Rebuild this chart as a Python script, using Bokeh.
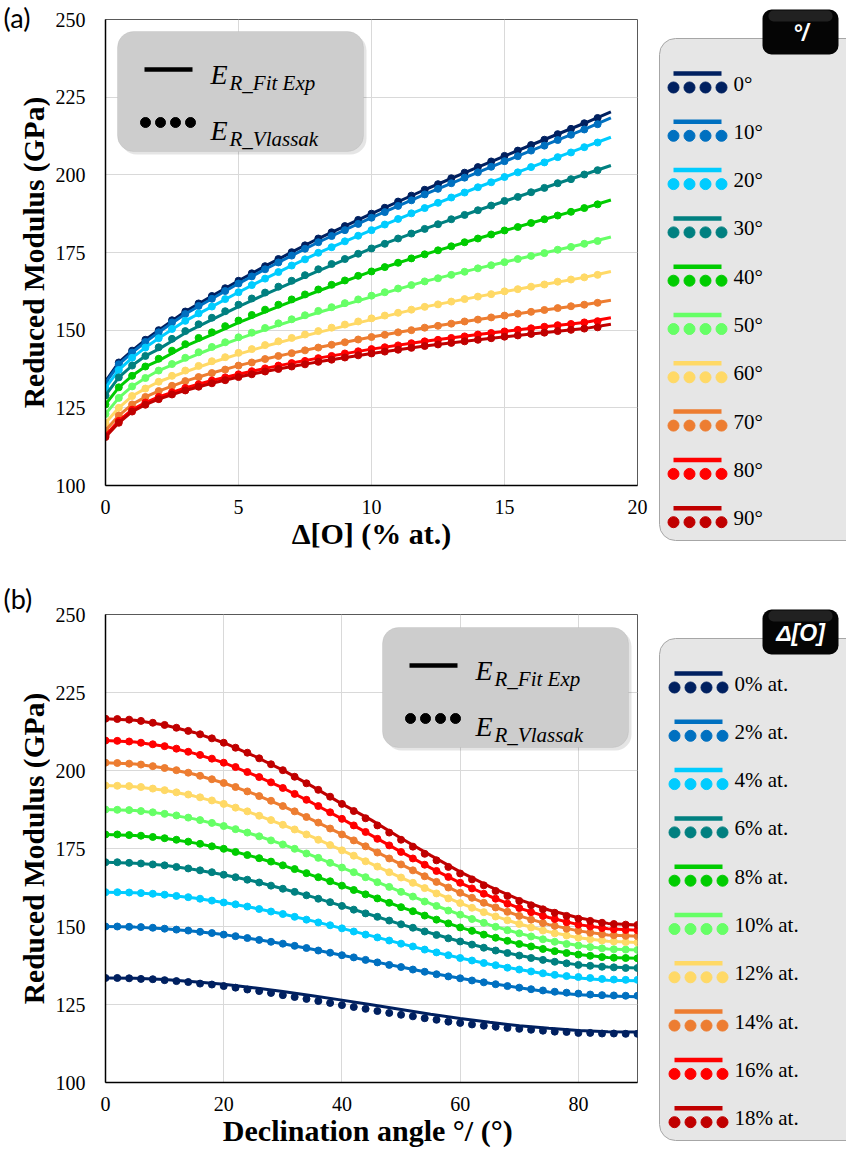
import math
from bokeh.plotting import figure
from bokeh.models import Range1d, FixedTicker, BoxAnnotation, Label
from bokeh.layouts import row, column
from bokeh.embed import file_html
from bokeh.resources import INLINE
from bokeh.core.properties import value

# ------------------------------------------------------------------ data
colors = ["#002060", "#0070C0", "#00CCFF", "#008080", "#00CC00",
          "#66FF66", "#FFD966", "#ED7D31", "#FF0000", "#C00000"]
labels_a = ["0°", "10°", "20°", "30°", "40°", "50°", "60°", "70°", "80°", "90°"]
labels_b = ["0% at.", "2% at.", "4% at.", "6% at.", "8% at.",
            "10% at.", "12% at.", "14% at.", "16% at.", "18% at."]

# (a) x values
delta_dots = [0, 0.5, 1, 1.5, 2, 2.5, 3, 3.5, 4, 4.5, 5, 5.5, 6, 6.5, 7, 7.5, 8, 8.5, 9, 9.5,
              10, 10.5, 11, 11.5, 12, 12.5, 13, 13.5, 14, 14.5, 15, 15.5, 16, 16.5, 17, 17.5, 18, 18.5]
delta_line = [0, 0.5, 1, 1.5, 2, 3, 4, 5, 6, 7, 8, 10, 12, 14, 16, 18, 19]

# (a) Vlassak dots, one list per declination angle
a_vl_0 = [133.5, 139.6, 143.4, 146.9, 150.0, 153.2, 156.0, 158.6, 161.0, 163.5, 165.9, 168.3, 170.6, 172.9, 175.1, 177.3, 179.5, 181.5, 183.5, 185.5, 187.5, 189.4, 191.4, 193.3, 195.2, 197.0, 198.9, 200.7, 202.5, 204.3, 206.1, 207.8, 209.6, 211.3, 213.1, 214.8, 216.6, 218.3]
a_vl_10 = [133.0, 139.0, 142.8, 146.2, 149.3, 152.5, 155.2, 157.8, 160.1, 162.6, 165.0, 167.3, 169.6, 171.8, 174.0, 176.2, 178.3, 180.3, 182.2, 184.2, 186.2, 188.0, 190.0, 191.8, 193.7, 195.5, 197.3, 199.1, 200.8, 202.6, 204.4, 206.0, 207.8, 209.4, 211.2, 212.9, 214.6, 216.3]
a_vl_20 = [131.4, 137.2, 141.1, 144.4, 147.4, 150.4, 153.0, 155.4, 157.6, 160.0, 162.2, 164.5, 166.6, 168.7, 170.8, 172.8, 174.9, 176.7, 178.6, 180.4, 182.2, 184.0, 185.8, 187.6, 189.3, 191.0, 192.7, 194.3, 196.0, 197.6, 199.3, 200.8, 202.5, 204.0, 205.7, 207.2, 208.9, 210.4]
a_vl_30 = [129.0, 134.8, 138.6, 141.7, 144.5, 147.2, 149.7, 151.9, 154.0, 156.1, 158.2, 160.2, 162.1, 164.0, 165.9, 167.7, 169.6, 171.3, 172.9, 174.6, 176.3, 177.8, 179.5, 181.1, 182.6, 184.1, 185.7, 187.1, 188.6, 190.1, 191.6, 192.9, 194.4, 195.8, 197.3, 198.6, 200.1, 201.5]
a_vl_40 = [126.1, 131.6, 135.3, 138.3, 140.8, 143.4, 145.5, 147.5, 149.3, 151.3, 153.1, 154.9, 156.6, 158.2, 159.9, 161.5, 163.1, 164.6, 166.0, 167.5, 168.9, 170.3, 171.7, 173.1, 174.4, 175.7, 177.0, 178.3, 179.5, 180.8, 182.1, 183.2, 184.5, 185.7, 186.9, 188.1, 189.3, 190.5]
a_vl_50 = [123.0, 128.2, 131.9, 134.6, 137.0, 139.1, 141.1, 142.9, 144.6, 146.1, 147.7, 149.2, 150.7, 152.2, 153.5, 154.8, 156.2, 157.4, 158.7, 159.9, 161.1, 162.2, 163.4, 164.5, 165.7, 166.7, 167.8, 168.8, 169.9, 170.9, 171.9, 172.9, 173.9, 174.8, 175.9, 176.8, 177.8, 178.7]
a_vl_60 = [120.1, 125.0, 128.8, 131.2, 133.4, 135.3, 137.0, 138.5, 140.0, 141.3, 142.7, 143.9, 145.2, 146.4, 147.5, 148.6, 149.7, 150.8, 151.8, 152.8, 153.8, 154.7, 155.6, 156.6, 157.5, 158.3, 159.2, 160.0, 160.8, 161.6, 162.5, 163.2, 164.0, 164.7, 165.6, 166.3, 167.0, 167.8]
a_vl_70 = [117.7, 122.5, 126.1, 128.5, 130.4, 132.1, 133.6, 134.9, 136.2, 137.3, 138.6, 139.6, 140.7, 141.7, 142.6, 143.5, 144.4, 145.3, 146.1, 147.0, 147.8, 148.5, 149.3, 150.0, 150.8, 151.4, 152.1, 152.8, 153.4, 154.1, 154.7, 155.3, 155.9, 156.5, 157.1, 157.7, 158.2, 158.8]
a_vl_80 = [116.1, 120.8, 124.4, 126.7, 128.5, 130.0, 131.4, 132.6, 133.8, 134.8, 135.8, 136.8, 137.7, 138.6, 139.4, 140.1, 141.0, 141.7, 142.5, 143.2, 143.9, 144.5, 145.1, 145.8, 146.4, 146.9, 147.5, 148.0, 148.6, 149.1, 149.6, 150.1, 150.6, 151.1, 151.6, 152.0, 152.5, 152.9]
a_vl_90 = [115.6, 120.2, 123.8, 126.0, 127.8, 129.3, 130.6, 131.8, 132.9, 133.9, 134.9, 135.8, 136.7, 137.5, 138.3, 139.0, 139.8, 140.5, 141.2, 141.9, 142.5, 143.1, 143.7, 144.3, 144.9, 145.4, 145.9, 146.4, 146.9, 147.4, 147.9, 148.3, 148.8, 149.2, 149.7, 150.1, 150.5, 150.9]

# (a) fitted curves
a_fit_0 = [133.5, 139.6, 143.4, 146.9, 150.0, 156.0, 161.0, 165.9, 170.6, 175.1, 179.5, 187.5, 195.2, 202.5, 209.6, 216.6, 220.3]
a_fit_10 = [133.0, 139.0, 142.8, 146.2, 149.3, 155.2, 160.1, 165.0, 169.6, 174.0, 178.3, 186.2, 193.7, 200.8, 207.8, 214.6, 218.3]
a_fit_20 = [131.4, 137.2, 141.1, 144.4, 147.4, 153.0, 157.6, 162.2, 166.6, 170.8, 174.9, 182.2, 189.3, 196.0, 202.5, 208.9, 212.1]
a_fit_30 = [129.0, 134.8, 138.6, 141.7, 143.9, 149.1, 153.4, 157.6, 161.5, 165.3, 169.1, 176.3, 182.6, 188.6, 194.4, 200.1, 203.0]
a_fit_40 = [126.1, 131.6, 135.3, 138.3, 140.2, 144.9, 148.6, 152.4, 155.9, 159.3, 162.6, 168.9, 174.4, 179.5, 184.5, 189.3, 191.9]
a_fit_50 = [123.0, 128.2, 131.9, 134.6, 137.0, 140.6, 144.1, 147.2, 150.2, 153.0, 155.7, 160.7, 165.7, 169.9, 173.9, 177.8, 180.0]
a_fit_60 = [120.1, 125.0, 128.8, 131.2, 133.4, 136.6, 139.6, 142.3, 144.8, 147.1, 149.3, 153.4, 157.5, 160.8, 164.0, 167.0, 168.9]
a_fit_70 = [117.7, 122.5, 126.1, 128.5, 130.4, 133.6, 136.2, 138.6, 140.7, 142.6, 144.4, 147.8, 150.8, 153.4, 155.9, 158.2, 159.6]
a_fit_80 = [116.1, 120.8, 124.4, 126.7, 128.5, 131.4, 133.8, 135.8, 137.7, 139.4, 141.0, 143.9, 146.4, 148.6, 150.6, 152.5, 154.0]
a_fit_90 = [115.6, 120.2, 123.8, 126.0, 127.8, 130.6, 132.9, 134.9, 136.7, 138.3, 139.8, 142.5, 144.9, 146.9, 148.8, 150.5, 151.9]

# (b) x values
theta_dots = [0, 2, 4, 6, 8, 10, 12, 14, 16, 18, 20, 22, 24, 26, 28, 30, 32, 34, 36, 38, 40, 42, 44,
              46, 48, 50, 52, 54, 56, 58, 60, 62, 64, 66, 68, 70, 72, 74, 76, 78, 80, 82, 84, 86, 88, 90]
theta_line = [0, 5, 10, 15, 20, 25, 30, 35, 40, 45, 50, 55, 60, 65, 70, 75, 80, 85, 90]

# (b) Vlassak dots, one list per oxygen content
b_vl_0 = [133.5, 133.5, 133.4, 133.2, 133.1, 132.8, 132.5, 132.2, 131.7, 131.4, 130.9, 130.4, 129.8, 129.3, 128.7, 128.0, 127.4, 126.8, 126.1, 125.5, 124.8, 124.2, 123.6, 122.9, 122.3, 121.7, 121.2, 120.6, 120.1, 119.5, 119.1, 118.6, 118.2, 117.9, 117.5, 117.2, 116.9, 116.6, 116.3, 116.2, 115.9, 115.9, 115.7, 115.7, 115.6, 115.6]
b_vl_2 = [150.0, 150.0, 149.9, 149.8, 149.6, 149.3, 149.0, 148.7, 148.3, 147.9, 147.4, 146.9, 146.3, 145.7, 145.1, 144.5, 143.8, 143.1, 142.3, 141.6, 140.8, 140.1, 139.3, 138.5, 137.7, 137.0, 136.2, 135.5, 134.7, 134.0, 133.4, 132.7, 132.1, 131.5, 130.9, 130.4, 129.9, 129.5, 129.1, 128.8, 128.5, 128.2, 128.0, 127.9, 127.8, 127.8]
b_vl_4 = [161.0, 161.0, 160.9, 160.7, 160.5, 160.2, 159.8, 159.4, 158.9, 158.3, 157.7, 157.1, 156.4, 155.6, 154.8, 154.0, 153.1, 152.2, 151.3, 150.4, 149.4, 148.4, 147.4, 146.5, 145.5, 144.5, 143.6, 142.6, 141.7, 140.8, 139.9, 139.1, 138.3, 137.6, 136.8, 136.2, 135.6, 135.0, 134.5, 134.1, 133.8, 133.5, 133.2, 133.0, 132.9, 132.9]
b_vl_6 = [170.6, 170.6, 170.4, 170.2, 169.9, 169.6, 169.1, 168.6, 168.0, 167.4, 166.6, 165.8, 165.0, 164.1, 163.1, 162.1, 161.1, 160.0, 158.9, 157.8, 156.6, 155.4, 154.2, 153.1, 151.9, 150.7, 149.6, 148.4, 147.3, 146.2, 145.2, 144.2, 143.2, 142.3, 141.5, 140.7, 139.9, 139.3, 138.7, 138.2, 137.7, 137.4, 137.1, 136.9, 136.7, 136.7]
b_vl_8 = [179.5, 179.5, 179.3, 179.1, 178.7, 178.3, 177.8, 177.2, 176.5, 175.7, 174.9, 173.9, 172.9, 171.9, 170.8, 169.6, 168.4, 167.1, 165.8, 164.5, 163.1, 161.7, 160.3, 159.0, 157.6, 156.2, 154.9, 153.5, 152.2, 151.0, 149.7, 148.6, 147.4, 146.4, 145.4, 144.4, 143.6, 142.8, 142.1, 141.5, 141.0, 140.6, 140.2, 140.0, 139.9, 139.8]
b_vl_10 = [187.5, 187.4, 187.3, 187.0, 186.6, 186.1, 185.6, 184.9, 184.1, 183.2, 182.2, 181.2, 180.1, 178.9, 177.6, 176.3, 174.9, 173.4, 172.0, 170.4, 168.9, 167.4, 165.8, 164.2, 162.7, 161.1, 159.6, 158.0, 156.6, 155.1, 153.8, 152.4, 151.2, 149.9, 148.8, 147.8, 146.8, 145.9, 145.1, 144.4, 143.9, 143.4, 143.0, 142.7, 142.6, 142.5]
b_vl_12 = [195.2, 195.1, 195.0, 194.7, 194.2, 193.7, 193.0, 192.3, 191.4, 190.4, 189.3, 188.1, 186.9, 185.5, 184.1, 182.6, 181.1, 179.5, 177.8, 176.1, 174.4, 172.7, 170.9, 169.2, 167.4, 165.7, 164.0, 162.3, 160.6, 159.0, 157.5, 156.0, 154.6, 153.2, 152.0, 150.8, 149.7, 148.7, 147.8, 147.1, 146.4, 145.9, 145.5, 145.2, 145.0, 144.9]
b_vl_14 = [202.5, 202.4, 202.2, 201.9, 201.4, 200.8, 200.1, 199.3, 198.3, 197.2, 196.0, 194.7, 193.3, 191.8, 190.3, 188.6, 186.9, 185.1, 183.3, 181.4, 179.5, 177.6, 175.7, 173.7, 171.8, 169.9, 168.0, 166.1, 164.3, 162.5, 160.8, 159.2, 157.6, 156.1, 154.7, 153.4, 152.2, 151.1, 150.2, 149.3, 148.6, 148.0, 147.5, 147.2, 147.0, 146.9]
b_vl_16 = [209.6, 209.5, 209.3, 208.9, 208.4, 207.8, 207.0, 206.0, 205.0, 203.8, 202.5, 201.1, 199.5, 197.9, 196.2, 194.4, 192.5, 190.6, 188.6, 186.6, 184.5, 182.4, 180.3, 178.1, 176.0, 173.9, 171.8, 169.8, 167.8, 165.9, 164.0, 162.2, 160.5, 158.9, 157.3, 155.9, 154.6, 153.4, 152.4, 151.4, 150.6, 150.0, 149.5, 149.1, 148.9, 148.8]
b_vl_18 = [216.6, 216.5, 216.3, 215.9, 215.3, 214.6, 213.7, 212.7, 211.6, 210.3, 208.9, 207.3, 205.7, 203.9, 202.0, 200.1, 198.0, 195.9, 193.8, 191.6, 189.3, 187.0, 184.7, 182.4, 180.1, 177.8, 175.6, 173.3, 171.2, 169.1, 167.0, 165.1, 163.2, 161.4, 159.8, 158.2, 156.8, 155.5, 154.4, 153.4, 152.5, 151.8, 151.2, 150.8, 150.6, 150.5]

# (b) fitted curves
b_fit_0 = [133.5, 133.4, 133.0, 132.3, 131.5, 130.4, 129.2, 127.8, 126.4, 124.9, 123.4, 121.9, 120.5, 119.3, 118.2, 117.4, 116.7, 116.3, 116.2]
b_fit_2 = [150.0, 149.8, 149.3, 148.5, 147.4, 146.0, 144.5, 142.7, 140.8, 138.9, 137.0, 135.1, 133.4, 131.8, 130.4, 129.0, 128.1, 127.7, 127.5]
b_fit_4 = [161.0, 160.8, 160.2, 159.1, 157.7, 156.0, 154.0, 151.8, 149.4, 147.0, 144.5, 142.1, 139.9, 137.9, 136.2, 134.6, 133.5, 132.8, 132.6]
b_fit_6 = [170.6, 170.3, 169.6, 168.3, 166.6, 164.6, 162.1, 159.5, 156.6, 153.7, 150.7, 147.9, 145.2, 142.8, 140.7, 139.0, 137.7, 137.0, 136.7]
b_fit_8 = [179.5, 179.2, 178.3, 176.8, 174.9, 172.4, 169.6, 166.4, 163.1, 159.7, 156.2, 152.9, 149.7, 146.9, 144.4, 142.5, 141.0, 140.1, 139.8]
b_fit_10 = [187.5, 187.2, 186.1, 184.5, 182.2, 179.5, 176.3, 172.7, 168.9, 165.0, 161.1, 157.3, 153.8, 150.5, 147.8, 145.5, 143.9, 142.8, 142.5]
b_fit_12 = [195.2, 194.8, 193.7, 191.8, 189.3, 186.2, 182.6, 178.7, 174.4, 170.1, 165.7, 161.5, 157.5, 153.9, 150.8, 148.3, 146.4, 145.3, 144.9]
b_fit_14 = [202.5, 202.1, 200.8, 198.8, 196.0, 192.6, 188.6, 184.2, 179.5, 174.7, 169.9, 165.2, 160.8, 156.8, 153.4, 150.6, 148.6, 147.3, 146.9]
b_fit_16 = [209.6, 209.1, 207.8, 205.5, 202.5, 198.7, 194.4, 189.6, 184.5, 179.2, 173.9, 168.8, 164.0, 159.7, 155.9, 152.9, 150.6, 149.3, 148.8]
b_fit_18 = [216.6, 216.1, 214.6, 212.2, 208.9, 204.8, 200.1, 194.9, 189.3, 184.1, 178.3, 172.8, 167.5, 162.8, 158.6, 155.3, 152.8, 151.0, 150.5]

a_fit = [a_fit_0, a_fit_10, a_fit_20, a_fit_30, a_fit_40, a_fit_50, a_fit_60, a_fit_70, a_fit_80, a_fit_90]
a_vl = [a_vl_0, a_vl_10, a_vl_20, a_vl_30, a_vl_40, a_vl_50, a_vl_60, a_vl_70, a_vl_80, a_vl_90]
b_fit = [b_fit_0, b_fit_2, b_fit_4, b_fit_6, b_fit_8, b_fit_10, b_fit_12, b_fit_14, b_fit_16, b_fit_18]
b_vl = [b_vl_0, b_vl_2, b_vl_4, b_vl_6, b_vl_8, b_vl_10, b_vl_12, b_vl_14, b_vl_16, b_vl_18]

# ------------------------------------------------------------------ styling
SERIF = "Liberation Serif"
SANS = "Liberation Sans"
W_LEFT, W_MAIN, W_LEG = 50, 608, 188


def bare_fig(width, height, x0, y0):
    f = figure(width=width, height=height, x_range=Range1d(x0, x0 + width), y_range=Range1d(y0 + height, y0),
               output_backend="svg", toolbar_location=None, x_axis_type=None, y_axis_type=None,
               min_border=0, min_border_left=0, min_border_right=0, min_border_top=0, min_border_bottom=0,
               frame_align=False)
    f.outline_line_color = None
    return f


def main_fig(xmax, height, btop, bbot, xticks, xlabel):
    p = figure(width=W_MAIN, height=height, x_range=Range1d(0, xmax), y_range=Range1d(100, 250),
               output_backend="svg", toolbar_location=None,
               min_border_left=105 - W_LEFT, min_border_right=21, min_border_top=btop, min_border_bottom=bbot)
    p.xaxis.ticker = FixedTicker(ticks=xticks)
    p.yaxis.ticker = FixedTicker(ticks=[100, 125, 150, 175, 200, 225, 250])
    for ax in (p.xaxis[0], p.yaxis[0]):
        ax.major_tick_line_color = None
        ax.minor_tick_line_color = None
        ax.major_tick_out = 0
        ax.major_tick_in = 0
        ax.axis_line_color = "black"
        ax.axis_line_width = 1.5
        ax.major_label_text_font = SERIF
        ax.major_label_text_font_size = "20px"
        ax.major_label_text_color = "black"
        ax.axis_label_text_font = SERIF
        ax.axis_label_text_font_size = "30px"
        ax.axis_label_text_font_style = "bold"
        ax.axis_label_text_color = "black"
        ax.axis_label_standoff = 0
    p.xaxis.major_label_standoff = 14
    p.yaxis.major_label_standoff = 20
    p.xaxis.axis_label = xlabel
    p.grid.grid_line_color = "#d9d9d9"
    p.grid.grid_line_width = 1
    p.outline_line_color = "#595959"
    p.outline_line_width = 1
    return p


def left_fig(height, ytop, tag, tag_y, frame_top, frame_bottom):
    f = bare_fig(W_LEFT, height, 0, ytop)
    f.text(x=[3], y=[tag_y], text=[tag], text_color="black", text_font=value("Lato"),
           text_font_size="27px", text_baseline="top")
    f.text(x=[33], y=[(frame_top + frame_bottom) / 2], text=["Reduced Modulus (GPa)"], angle=math.pi / 2,
           text_color="black", text_font=value(SERIF), text_font_style="bold", text_font_size="29.5px",
           text_align="center", text_baseline="middle")
    return f


def converter(xmax, y0, y1):
    fx = lambda px: (px - 105) * xmax / 532.0
    fy = lambda py: 250 - (py - y0) * 150.0 / (y1 - y0)
    return fx, fy


def draw_key(p, fx, fy, bx, by):
    bw, bh = 246, 120
    p.add_layout(BoxAnnotation(left=fx(bx + 3), right=fx(bx + bw + 3), top=fy(by + 3), bottom=fy(by + bh + 3),
                               fill_color="#000000", fill_alpha=0.10, line_color=None,
                               border_radius=16, level="underlay"))
    p.add_layout(BoxAnnotation(left=fx(bx), right=fx(bx + bw), top=fy(by), bottom=fy(by + bh),
                               fill_color="#cdcdcd", fill_alpha=1.0, line_color="#b5b5b5", line_width=1,
                               border_radius=16, level="underlay"))
    p.line([fx(bx + 27), fx(bx + 75)], [fy(by + 38), fy(by + 38)], line_width=4.5, color="black")
    p.scatter([fx(bx + 28), fx(bx + 43), fx(bx + 58), fx(bx + 73)], [fy(by + 91)] * 4, size=10, color="black")
    for (txt, xoff, yoff, size) in [("E", 93, 43, "28px"), ("R_Fit Exp", 112, 51, "21px"),
                                    ("E", 93, 99, "28px"), ("R_Vlassak", 112, 107, "21px")]:
        p.add_layout(Label(x=fx(bx + xoff), y=fy(by + yoff), text=txt, text_font=SERIF,
                           text_font_style="italic", text_font_size=size, text_color="black",
                           text_baseline="alphabetic"))


def legend_fig(height, ytop, title, labels, panel, title_box, first_y, step, xs):
    lp = bare_fig(W_LEG, height, 658, ytop)
    l, r, t, b = panel
    lp.quad(left=[l], right=[r], top=[t], bottom=[b], border_radius=16,
            fill_color="#e6e6e6", line_color="#a6a6a6", line_width=1)
    l, r, t, b = title_box
    lp.quad(left=[l], right=[r], top=[t], bottom=[b], border_radius=9,
            fill_color="#050505", line_color=None)
    lp.quad(left=[l + 6], right=[r - 6], top=[t + 1], bottom=[t + 12], border_radius=5,
            fill_color="#2e2e2e", line_color=None, fill_alpha=0.7)
    lp.text(x=[(l + r) / 2], y=[(t + b) / 2 + 1], text=[title], text_color="white",
            text_font=value(SANS), text_font_style="bold italic", text_font_size="23px",
            text_align="center", text_baseline="middle")
    for i, (c, lab) in enumerate(zip(colors, labels)):
        y0 = first_y + step * i
        lp.line([xs[0], xs[3]], [y0, y0], line_width=4.5, color=c)
        lp.scatter(xs, [y0 + 14] * 4, size=11, color=c)
        lp.text(x=[xs[3] + 12], y=[y0 + 10], text=[lab], text_color="black",
                text_font=value(SERIF), text_font_size="21px", text_baseline="middle")
    return lp


# ------------------------------------------------------------------ (a)
pa = main_fig(20, 578, 19, 93, [0, 5, 10, 15, 20], "Δ[O] (% at.)")
fxa, fya = converter(20, 19, 485)
for fit, vl, c in zip(a_fit, a_vl, colors):
    pa.line(delta_line, fit, line_width=3, color=c)
    pa.scatter(delta_dots, vl, size=7, color=c)
draw_key(pa, fxa, fya, 117, 31)

ya = left_fig(578, 0, "(a)", 0, 19, 485)
la = legend_fig(578, 0, "°/", labels_a, (659, 862, 38, 540), (762, 838, 9, 54), 73, 48.3,
                [673, 689, 705, 721])

# ------------------------------------------------------------------ (b)
pb = main_fig(90, 582, 36, 78, [0, 20, 40, 60, 80], "Declination angle °/  (°)")
fxb, fyb = converter(90, 614, 1082)
for fit, vl, c in zip(b_fit, b_vl, colors):
    pb.line(theta_line, fit, line_width=3, color=c)
    pb.scatter(theta_dots, vl, size=7, color=c)
draw_key(pb, fxb, fyb, 382, 627)

yb = left_fig(582, 578, "(b)", 581, 614, 1082)
lb = legend_fig(582, 578, "Δ[O]", labels_b, (659, 862, 638, 1140), (762, 838, 609, 654), 673, 48.3,
                [674, 690, 706, 722])

layout = column(row(ya, pa, la), row(yb, pb, lb))
open("out.html", "w").write(file_html(layout, INLINE))
